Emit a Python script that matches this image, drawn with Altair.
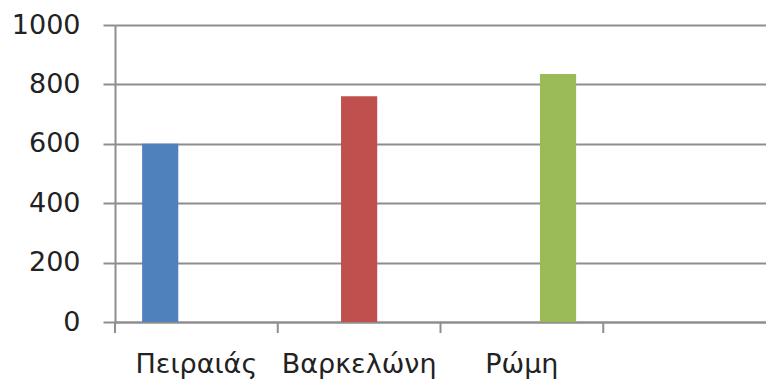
import altair as alt
import pandas as pd

# Category slots on the x axis (the fourth slot is left empty)
categories = ["Πειραιάς", "Βαρκελώνη", "Ρώμη", " "]
# One series per city, each with a single value in its own category
series = ["Πειραιάς", "Βαρκελώνη", "Ρώμη"]
values = [600, 760, 835]
colors = ["#4F81BD", "#C0504D", "#9BBB59"]
y_ticks = [0, 200, 400, 600, 800, 1000]

bars_df = pd.DataFrame({"cat": series, "series": series, "value": values})
slots_df = pd.DataFrame({"cat": categories})

GRID = "#8e8e8e"
FONT = "DejaVu Sans"

x_scale = alt.Scale(domain=categories, paddingInner=1 / 3, paddingOuter=1 / 6)
y_scale = alt.Scale(domain=[0, 1000], nice=False)
y_axis = alt.Axis(values=y_ticks, format="d")

bars = alt.Chart(bars_df).mark_bar().encode(
    x=alt.X("cat:N", scale=x_scale, sort=categories, title=None),
    xOffset=alt.XOffset("series:N", scale=alt.Scale(domain=series, paddingInner=0, paddingOuter=0)),
    y=alt.Y("value:Q", scale=y_scale, axis=y_axis, title=None),
    color=alt.Color("series:N", scale=alt.Scale(domain=series, range=colors), legend=None),
)

# Category separator ticks below the baseline, on the boundaries between the
# slots (an unpadded band scale over the same categories)
seps = alt.Chart(slots_df).mark_rule(color=GRID, strokeWidth=2, y2Offset=11).encode(
    x=alt.X(
        "cat:N",
        scale=alt.Scale(domain=categories, paddingInner=0, paddingOuter=0),
        sort=categories,
        bandPosition=0,
        axis=None,
    ),
    y=alt.datum(0),
    y2=alt.datum(0),
)

chart = (
    alt.layer(bars, seps)
    .resolve_scale(x="independent")
    .properties(
        width=651,
        height=297,
        autosize=alt.AutoSizeParams(type="none"),
        padding={"left": 115, "top": 25, "right": 0, "bottom": 59},
        background="white",
    )
    .configure_view(stroke=None)
    .configure_axisY(
        domainColor=GRID,
        domainWidth=2,
        tickColor=GRID,
        tickWidth=2,
        tickSize=12,
        gridColor=GRID,
        gridWidth=2,
        labelFont=FONT,
        labelFontSize=27,
        labelColor="#222222",
        labelPadding=23,
        labelAlign="right",
        labelBaseline="middle",
    )
    .configure_axisX(
        domainColor=GRID,
        domainWidth=2,
        ticks=False,
        tickSize=0,
        grid=False,
        labelAngle=0,
        labelFont=FONT,
        labelFontSize=27,
        labelColor="#222222",
        labelPadding=29,
    )
)

chart.save("out.html", embed_options={"renderer": "svg", "actions": False})
